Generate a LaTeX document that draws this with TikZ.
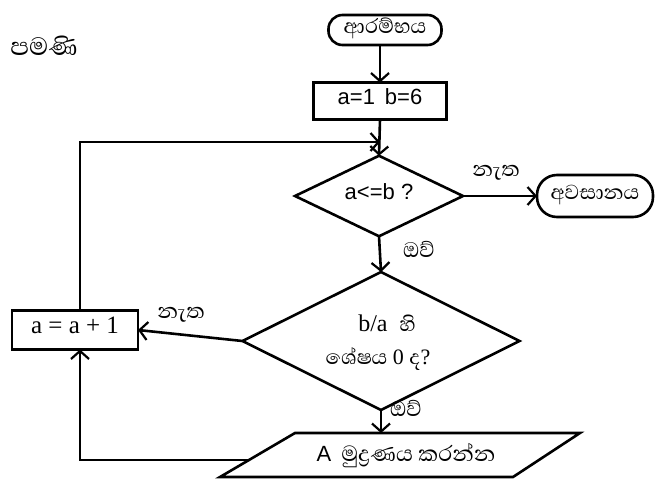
\documentclass[tikz,border=0pt]{standalone}
\usepackage{fontspec}
\setmainfont{Liberation Serif}
\newfontfamily\sinhf[Script=Sinhala]{Abhaya Libre}
\newfontfamily\sansf{Liberation Sans}
\usetikzlibrary{shapes.geometric,arrows.meta,calc}
\begin{document}
\begin{tikzpicture}[x=1pt,y=-1pt,
  every node/.style={inner sep=0pt,outer sep=0pt},
  ln/.style={line width=2.6pt,line join=miter},
  arr/.style={ln,-{Straight Barb[length=8pt,width=18pt,line width=2.2pt]}},
  term/.style={draw,ln,rounded corners=14pt,align=center,text height=9pt,text depth=3pt},
  procbox/.style={draw,ln,align=center,text height=9pt,text depth=3pt},
  decide/.style={draw,ln,diamond,align=center,text height=9pt,text depth=3pt},
  lbl/.style={font=\sinhf\fontsize{27}{29}\selectfont}
]
\useasboundingbox (0,0) rectangle (658,479);
\node[font=\sinhf\fontsize{32}{34}\selectfont] (title) at (44,46) {පමණි};
\node[term,minimum width=113pt,minimum height=30pt,font=\sinhf\fontsize{26}{28}\selectfont] (start) at (385,30) {ආරම්භය};
\node[procbox,minimum width=133pt,minimum height=37pt,font=\sansf\fontsize{22}{24}\selectfont] (init) at (380,101) {a=1\hspace{10pt}b=6};
\node[decide,minimum width=168pt,minimum height=75pt,font=\sansf\fontsize{22}{24}\selectfont] (d1) at (379,196) {a<=b ?};
\node[term,rounded corners=20pt,minimum width=116pt,minimum height=42pt,font=\sinhf\fontsize{26}{28}\selectfont] (end) at (595,196) {අවසානය};
\node[decide,minimum width=277pt,minimum height=138pt] (d2) at (381,341) {};
\node[font=\fontsize{24}{26}\selectfont] (t1) at (387,323) {b/a\hspace{12pt}{\sinhf\fontsize{26}{28}\selectfont හි}};
\node[font=\fontsize{22}{24}\selectfont] (t2) at (378,359) {{\sinhf\fontsize{26}{28}\selectfont ශේෂය} 0 {\sinhf\fontsize{26}{28}\selectfont ද}?};
\node[procbox,minimum width=126pt,minimum height=39pt,font=\fontsize{25}{27}\selectfont] (inc) at (75,330) {a = a + 1};
\coordinate (p1) at (295,433);
\coordinate (p2) at (580,433);
\coordinate (p3) at (513,477);
\coordinate (p4) at (220,477);
\draw[ln] (p1) -- (p2) -- (p3) -- (p4) -- cycle;
\coordinate (ptop) at (381,433);
\coordinate (pleft) at (249,460);
\node[font=\fontsize{22}{24}\selectfont] (ptext) at (406,456) {{\sansf A}\hspace{10pt}{\sinhf\fontsize{28}{30}\selectfont මුද්‍රණය කරන්න}};
\coordinate (j1) at (380,142);
\coordinate (lx) at (80,0);
\draw[arr] (start.south -| init.north) -- (init.north);
\draw[arr] (init.south) -- (d1.north);
\draw[arr] (inc.north -| lx) |- (j1);
\draw[arr] (d1.east) -- (end.west);
\draw[arr] (d1.south) -- (d2.north);
\draw[arr] (d2.west) -- (inc.east);
\draw[arr] (d2.south) -- (ptop);
\draw[arr] (pleft) -| (inc.south -| lx);
\node[lbl] (no1) at (496,173) {නැත};
\node[lbl] (yes1) at (419,249) {ඔව්};
\node[lbl] (no2) at (181,315) {නැත};
\node[lbl] (yes2) at (406,408) {ඔව්};
\end{tikzpicture}
\end{document}
